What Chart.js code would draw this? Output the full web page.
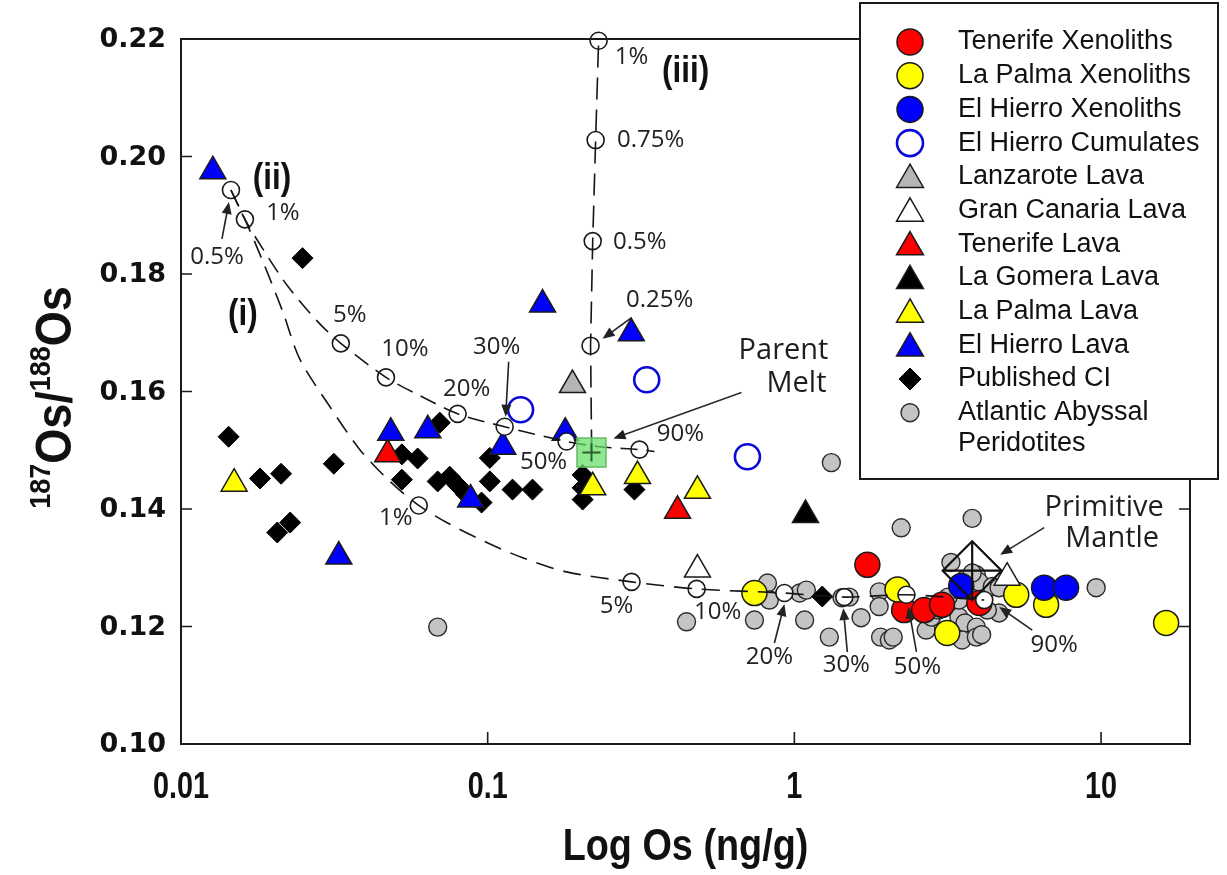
<!DOCTYPE html>
<html>
<head>
<meta charset="utf-8">
<title>187Os/188Os vs Os</title>
<script src="https://cdn.jsdelivr.net/npm/chart.js@4.4.1/dist/chart.umd.min.js"></script>
<style>
  html, body { margin: 0; padding: 0; background: #ffffff; }
  #wrap { position: relative; width: 1227px; height: 875px; }
</style>
</head>
<body>
<div id="wrap"><canvas id="chart" width="1227" height="875"></canvas></div>
<script>
// ---------- data: [Os (ng/g), 187Os/188Os] ----------
const tenerifeXenoliths = [[1.73,0.1305],[2.28,0.1228],[2.65,0.1228],[3.03,0.1237],[4.01,0.1240]];
const laPalmaXenoliths  = [[0.741,0.1257],[2.17,0.1263],[3.15,0.1189],[5.29,0.1254],[6.62,0.1237],[16.3,0.1206]];
const elHierroXenoliths = [[3.50,0.1269],[6.52,0.1266],[7.69,0.1266]];
const elHierroCumulates = [[0.128,0.1569],[0.330,0.1620],[0.703,0.1489]];
const lanzaroteLava     = [[0.189,0.1611]];
const granCanariaLava   = [[0.483,0.1297],[4.94,0.1283]];
const tenerifeLava      = [[0.0472,0.1493],[0.416,0.1397]];
const laGomeraLava      = [[1.087,0.1390]];
const laPalmaLava       = [[0.0149,0.1443],[0.220,0.1437],[0.308,0.1456],[0.483,0.1431]];
const elHierroLava      = [[0.0127,0.1975],[0.151,0.1748],[0.294,0.1699],[0.0483,0.1530],[0.0638,0.1534],
                           [0.179,0.1530],[0.112,0.1506],[0.088,0.1416],[0.0327,0.1319]];
const publishedCI       = [[0.0249,0.1827],[0.0143,0.1523],[0.0181,0.1452],[0.0212,0.1460],[0.0206,0.1360],
                           [0.0227,0.1377],[0.0315,0.1477],[0.0525,0.1493],[0.0591,0.1486],[0.0525,0.1450],
                           [0.0687,0.1447],[0.0752,0.1455],[0.0698,0.1547],[0.0800,0.1440],[0.0850,0.1425],
                           [0.1016,0.1487],[0.1016,0.1447],[0.1205,0.1433],[0.140,0.1433],[0.0955,0.1411],
                           [0.204,0.1458],[0.204,0.1436],[0.204,0.1416],[0.301,0.1433],[1.233,0.1251]];
const abyssalPeridotites = [[0.0687,0.1199],[0.445,0.1208],[1.32,0.1479],[3.80,0.1384],[2.23,0.1368],
                           [0.817,0.1274],[0.829,0.1245],[0.741,0.1211],[1.04,0.1257],[1.094,0.1262],
                           [1.08,0.1211],[1.30,0.1182],[1.43,0.1249],[1.51,0.1250],[1.65,0.1215],
                           [1.89,0.1259],[1.89,0.1234],[1.91,0.1182],[2.04,0.1177],[2.10,0.1182],
                           [3.24,0.1309],[3.92,0.1288],[4.00,0.1276],[4.42,0.1268],[4.65,0.1266],
                           [9.64,0.1266],[4.65,0.1223],[4.26,0.1228],[3.44,0.1216],[3.60,0.1206],
                           [3.92,0.1199],[3.52,0.1177],[3.92,0.1182],[4.08,0.1186],[2.69,0.1194],
                           [2.80,0.1216],[2.95,0.1228],[3.44,0.1245],[3.60,0.1280],[3.17,0.1250],[3.80,0.1291]];
const parentMelt     = [[0.218,0.1496]];
const primitiveMantle = [[3.80,0.1295]];

// mixing / melting model paths
const curveIPath   = [[0.01455,0.1943],[0.01616,0.1893],[0.01837,0.1825],[0.0215,0.1735],[0.0244,0.1655],
                      [0.0306,0.1574],[0.0383,0.1501],[0.048,0.1447],[0.0596,0.1406],[0.0735,0.1377],
                      [0.0993,0.1343],[0.130,0.1317],[0.1808,0.1293],[0.2945,0.1276],[0.480,0.1264],
                      [0.928,0.1257],[1.455,0.1250],[2.32,0.1254],[4.16,0.1245]];
const curveIIPath  = [[0.01455,0.1943],[0.01616,0.1893],[0.01837,0.1845],[0.0223,0.1779],[0.0279,0.1719],
                      [0.0332,0.1682],[0.0466,0.1624],[0.0601,0.1593],[0.0798,0.1562],[0.1136,0.1540],
                      [0.1808,0.1515],[0.2317,0.1506],[0.3126,0.1501],[0.350,0.1498]];
const curveIIIPath = [[0.2183,0.1498],[0.2165,0.1678],[0.220,0.1856],[0.2249,0.2028],[0.230,0.2197]];

// labelled steps on each model curve
const curveIMarks   = [[0.0596,0.1406],[0.2945,0.1276],[0.480,0.1264],[0.928,0.1257],[1.455,0.1250],[2.32,0.1254],[4.16,0.1245]];
const curveIPct     = ['1%','5%','10%','20%','30%','50%','90%'];
const curveIIMarks  = [[0.01455,0.1943],[0.01616,0.1893],[0.0332,0.1682],[0.0466,0.1624],[0.0798,0.1562],[0.1136,0.1540],[0.1808,0.1515],[0.3126,0.1501]];
const curveIIPct    = ['0.5%','1%','5%','10%','20%','30%','50%','90%'];
const curveIIIMarks = [[0.2165,0.1678],[0.220,0.1856],[0.2249,0.2028],[0.230,0.2197]];
const curveIIIPct   = ['0.25%','0.5%','0.75%','1%'];

// axes
const xTicks = [0.01, 0.1, 1, 10];
const xTickLabels = ['0.01', '0.1', '1', '10'];
const yTicks = [0.10, 0.12, 0.14, 0.16, 0.18, 0.20, 0.22];
const yTickLabels = ['0.10', '0.12', '0.14', '0.16', '0.18', '0.20', '0.22'];
const xTitle = 'Log Os (ng/g)';
const legendLabels = ['Tenerife Xenoliths','La Palma Xenoliths','El Hierro Xenoliths','El Hierro Cumulates',
                      'Lanzarote Lava','Gran Canaria Lava','Tenerife Lava','La Gomera Lava','La Palma Lava',
                      'El Hierro Lava','Published CI',['Atlantic Abyssal','Peridotites']];

// ---------- styles ----------
const RED = '#ff0000', YEL = '#ffff00', BLU = '#0000ff', GRY = '#c4c4c4', EDGE = '#1a1a1a';
const sym = {
  tx:  {shape:'circle',   r:12.5, fill:RED, stroke:EDGE, lw:1.5},
  px:  {shape:'circle',   r:12.5, fill:YEL, stroke:EDGE, lw:1.5},
  hx:  {shape:'circle',   r:12.5, fill:BLU, stroke:EDGE, lw:1.5},
  hc:  {shape:'circle',   r:12.5, fill:'rgba(255,255,255,0)', stroke:'#0a0ad8', lw:2.6},
  lz:  {shape:'triangle', r:15,   fill:'#b5b5b5', stroke:EDGE, lw:1.5},
  gc:  {shape:'triangle', r:15,   fill:'#ffffff', stroke:EDGE, lw:1.5},
  tl:  {shape:'triangle', r:15,   fill:RED, stroke:EDGE, lw:1.5},
  gl:  {shape:'triangle', r:15,   fill:'#000000', stroke:EDGE, lw:1.5},
  pl:  {shape:'triangle', r:15,   fill:YEL, stroke:EDGE, lw:1.5},
  hl:  {shape:'triangle', r:15,   fill:BLU, stroke:EDGE, lw:1.5},
  ci:  {shape:'rectRot',  r:10.5, fill:'#000000', stroke:'#000000', lw:1},
  ap:  {shape:'circle',   r:9,    fill:GRY, stroke:'#2a2a2a', lw:1.4}
};

const pts = arr => arr.map(([x, y]) => ({x, y}));
function markers(label, arr, s, order) {
  return {
    label, data: pts(arr), order, showLine: false, clip: false,
    pointStyle: s.shape, pointRadius: s.r, pointHoverRadius: s.r,
    pointBackgroundColor: s.fill, backgroundColor: s.fill,
    pointBorderColor: s.stroke, borderColor: s.stroke,
    pointBorderWidth: s.lw, pointHoverBorderWidth: s.lw
  };
}
function path(label, arr, dash, tension, order) {
  return {
    label, data: pts(arr), order, showLine: true, clip: false, fill: false,
    borderColor: '#151515', borderWidth: 1.6, borderDash: dash, tension,
    pointRadius: 0, pointHoverRadius: 0
  };
}
function modelPoints(label, arr, order) {
  return {
    label, data: pts(arr), order, showLine: false, clip: false,
    pointStyle: 'circle', pointRadius: 8.5, pointHoverRadius: 8.5,
    pointBackgroundColor: '#ffffff', pointBorderColor: '#1a1a1a', pointBorderWidth: 1.6
  };
}

const datasets = [
  {label:'Primitive Mantle', data: pts(primitiveMantle), order: 1, clip: false, showLine: false,
   pointStyle: 'rectRot', pointRadius: 29.5, pointHoverRadius: 29.5,
   pointBackgroundColor: 'rgba(0,0,0,0)', pointBorderColor: '#111', pointBorderWidth: 2.2},
  {label:'Primitive Mantle cross', data: pts(primitiveMantle), order: 1, clip: false, showLine: false,
   pointStyle: 'cross', pointRadius: 29.5, pointHoverRadius: 29.5,
   pointBorderColor: '#111', pointBorderWidth: 2.2},
  {label:'Parent Melt cross', data: pts(parentMelt), order: 2, clip: false, showLine: false,
   pointStyle: 'cross', pointRadius: 9, pointHoverRadius: 9,
   pointBorderColor: '#2f5f2f', pointBorderWidth: 2},
  {label:'Parent Melt', data: pts(parentMelt), order: 3, clip: false, showLine: false,
   pointStyle: 'rect', pointRadius: 20.5, pointHoverRadius: 20.5,
   pointBackgroundColor: 'rgba(100,222,100,0.72)', pointBorderColor: '#66bb66', pointBorderWidth: 1.5},
  path('curve (i)', curveIPath, [18, 10], 0.3, 4),
  path('curve (ii)', curveIIPath, [17, 9], 0.3, 4),
  path('curve (iii)', curveIIIPath, [22, 10], 0, 4),
  modelPoints('curve (i) steps', curveIMarks, 5),
  modelPoints('curve (ii) steps', curveIIMarks, 5),
  modelPoints('curve (iii) steps', curveIIIMarks, 5),
  markers('El Hierro Lava', elHierroLava, sym.hl, 6),
  markers('La Palma Lava', laPalmaLava, sym.pl, 6),
  markers('La Gomera Lava', laGomeraLava, sym.gl, 6),
  markers('Tenerife Lava', tenerifeLava, sym.tl, 6),
  markers('Gran Canaria Lava', granCanariaLava, sym.gc, 6),
  markers('Lanzarote Lava', lanzaroteLava, sym.lz, 6),
  markers('El Hierro Cumulates', elHierroCumulates, sym.hc, 7),
  markers('El Hierro Xenoliths', elHierroXenoliths, sym.hx, 7),
  markers('La Palma Xenoliths', laPalmaXenoliths, sym.px, 7),
  markers('Tenerife Xenoliths', tenerifeXenoliths, sym.tx, 7),
  markers('Published CI', publishedCI, sym.ci, 8),
  markers('Atlantic Abyssal Peridotites', abyssalPeridotites, sym.ap, 9)
];

// ---------- annotation layout (pixel offsets from the anchored point) ----------
const PCT_FONT = '24px "Open Sans", "Noto Sans", sans-serif';
const TEXT_COL = '#222222';
const curveIStyle = [
  {d:[-23,13]}, {d:[-15,24]}, {d:[21,23]},
  {d:[-15,64], a:[[-10,50],[0,11]]}, {d:[2,68], a:[[3,55],[-1,11]]},
  {d:[11,72], a:[[10,57],[2,12]]}, {d:[70,45], a:[[48,30],[15,7]]}
];
const curveIIStyle = [
  {d:[-14,67], a:[[-9,49],[-2,12]]}, {d:[38,-6]}, {d:[9,-28]}, {d:[19,-28]},
  {d:[9,-25]}, {d:[-8,-80], a:[[4,-65],[1,-10]]}, {d:[-23,21]}, {d:[41,-16]}
];
const curveIIIStyle = [
  {d:[69,-46], a:[[41,-28],[12,-7]]}, {d:[47,1]}, {d:[55,0]}, {d:[33,16]}
];

// text squeezed horizontally, for the condensed axis lettering
function fillNarrow(ctx, text, x, y, sx) {
  ctx.save();
  ctx.translate(x, y);
  ctx.scale(sx, 1);
  ctx.fillText(text, 0, 0);
  ctx.restore();
}

function drawArrow(ctx, x1, y1, x2, y2) {
  const ang = Math.atan2(y2 - y1, x2 - x1), L = 12, W = 5;
  ctx.beginPath();
  ctx.moveTo(x1, y1);
  ctx.lineTo(x2 - Math.cos(ang) * L * 0.8, y2 - Math.sin(ang) * L * 0.8);
  ctx.stroke();
  ctx.beginPath();
  ctx.moveTo(x2, y2);
  ctx.lineTo(x2 - Math.cos(ang) * L + Math.sin(ang) * W, y2 - Math.sin(ang) * L - Math.cos(ang) * W);
  ctx.lineTo(x2 - Math.cos(ang) * L - Math.sin(ang) * W, y2 - Math.sin(ang) * L + Math.cos(ang) * W);
  ctx.closePath();
  ctx.fill();
}

const annotationPlugin = {
  id: 'annotations',
  afterDatasetsDraw(chart) {
    const {ctx, scales: {x, y}} = chart;
    const P = ([vx, vy]) => [x.getPixelForValue(vx), y.getPixelForValue(vy)];
    ctx.save();
    ctx.fillStyle = TEXT_COL; ctx.strokeStyle = TEXT_COL; ctx.lineWidth = 1.6;
    ctx.textAlign = 'center'; ctx.textBaseline = 'middle';
    const put = (marks, labels, styles) => {
      marks.forEach((m, i) => {
        const [px, py] = P(m), s = styles[i];
        ctx.font = PCT_FONT;
        ctx.fillText(labels[i], px + s.d[0], py + s.d[1]);
        if (s.a) drawArrow(ctx, px + s.a[0][0], py + s.a[0][1], px + s.a[1][0], py + s.a[1][1]);
      });
    };
    put(curveIMarks, curveIPct, curveIStyle);
    put(curveIIMarks, curveIIPct, curveIIStyle);
    put(curveIIIMarks, curveIIIPct, curveIIIStyle);

    // curve names
    ctx.fillStyle = '#111';
    ctx.font = 'bold 37px "Liberation Sans", Arial, sans-serif';
    let [ax, ay] = P(curveIIMarks[0]);
    fillNarrow(ctx, '(ii)', ax + 41, ay - 11, 0.85);
    fillNarrow(ctx, '(i)', ax + 12, ay + 125, 0.85);
    [ax, ay] = P(curveIIIMarks[3]);
    fillNarrow(ctx, '(iii)', ax + 87, ay + 31, 0.85);

    // end-member callouts
    ctx.fillStyle = '#1e1e1e'; ctx.strokeStyle = '#2b2b2b';
    ctx.font = '29px "Open Sans", "Noto Sans", sans-serif';
    [ax, ay] = P(parentMelt[0]);
    ctx.fillText('Parent', ax + 192, ay - 102);
    ctx.fillText('Melt', ax + 205, ay - 69);
    drawArrow(ctx, ax + 150, ay - 60, ax + 22, ay - 14);
    [ax, ay] = P(primitiveMantle[0]);
    ctx.fillText('Primitive', ax + 132, ay - 63);
    ctx.fillText('Mantle', ax + 140, ay - 32);
    drawArrow(ctx, ax + 72, ay - 43, ax + 28, ay - 16);
    ctx.restore();
  }
};

const axesPlugin = {
  id: 'frameAxes',
  afterDatasetsDraw(chart) {
    const {ctx, chartArea: a, scales: {x, y}} = chart;
    ctx.save();
    ctx.strokeStyle = '#1a1a1a';
    ctx.lineWidth = 2;
    ctx.strokeRect(a.left, a.top, a.right - a.left, a.bottom - a.top);
    ctx.lineWidth = 1.6;
    ctx.beginPath();
    yTicks.forEach(v => {
      if (v <= y.min || v >= y.max) return;
      const py = y.getPixelForValue(v);
      ctx.moveTo(a.left, py); ctx.lineTo(a.left + 11, py);
      ctx.moveTo(a.right, py); ctx.lineTo(a.right - 11, py);
    });
    xTicks.forEach(v => {
      if (v <= x.min || v >= x.max) return;
      const px = x.getPixelForValue(v);
      ctx.moveTo(px, a.bottom); ctx.lineTo(px, a.bottom - 12);
    });
    ctx.stroke();

    ctx.fillStyle = '#111';
    ctx.textBaseline = 'middle';
    ctx.textAlign = 'right';
    ctx.font = 'bold 27px "DejaVu Sans", sans-serif';
    yTicks.forEach((v, i) => ctx.fillText(yTickLabels[i], a.left - 15, y.getPixelForValue(v) + 1));
    ctx.textAlign = 'center';
    ctx.font = 'bold 36px "Liberation Sans", Arial, sans-serif';
    xTicks.forEach((v, i) => fillNarrow(ctx, xTickLabels[i], x.getPixelForValue(v), a.bottom + 44, 0.8));

    // x title
    ctx.font = 'bold 45px "Liberation Sans", Arial, sans-serif';
    fillNarrow(ctx, xTitle, (a.left + a.right) / 2, a.bottom + 104, 0.84);

    // y title with superscript mass numbers
    const parts = [['187', true], ['Os', false], ['/', false], ['188', true], ['Os', false]];
    const big = 'bold 50px "Liberation Sans", Arial, sans-serif';
    const small = 'bold 30px "Liberation Sans", Arial, sans-serif';
    const sx = 0.9;
    let total = 0;
    parts.forEach(([t, sup]) => { ctx.font = sup ? small : big; total += ctx.measureText(t).width * sx; });
    ctx.translate(54, (a.top + a.bottom) / 2 + 6);
    ctx.rotate(-Math.PI / 2);
    ctx.textAlign = 'left'; ctx.textBaseline = 'alphabetic';
    let cx = -total / 2;
    parts.forEach(([t, sup]) => {
      ctx.font = sup ? small : big;
      fillNarrow(ctx, t, cx, sup ? -4 : 17, sx);
      cx += ctx.measureText(t).width * sx;
    });
    ctx.restore();
  }
};

function drawSymbol(ctx, s, cx, cy) {
  ctx.save();
  ctx.fillStyle = s.fill; ctx.strokeStyle = s.stroke; ctx.lineWidth = s.lw;
  ctx.beginPath();
  if (s.shape === 'circle') {
    ctx.arc(cx, cy, s.r, 0, Math.PI * 2);
  } else if (s.shape === 'triangle') {
    const r = s.r, h = r * 1.5, w = r * 0.866;
    ctx.moveTo(cx, cy - h / 2 - 1); ctx.lineTo(cx + w, cy + h / 2 - 1); ctx.lineTo(cx - w, cy + h / 2 - 1);
    ctx.closePath();
  } else {
    ctx.moveTo(cx - s.r, cy); ctx.lineTo(cx, cy - s.r); ctx.lineTo(cx + s.r, cy); ctx.lineTo(cx, cy + s.r);
    ctx.closePath();
  }
  ctx.fill(); ctx.stroke();
  ctx.restore();
}

const legendSymbols = [
  {...sym.tx, r:13}, {...sym.px, r:13}, {...sym.hx, r:13}, {...sym.hc, r:13},
  {...sym.lz, r:15.5}, {...sym.gc, r:15.5}, {...sym.tl, r:15.5}, {...sym.gl, r:15.5},
  {...sym.pl, r:15.5}, {...sym.hl, r:15.5}, {...sym.ci, r:11}, {...sym.ap, r:9}
];

const legendPlugin = {
  id: 'boxLegend',
  afterDraw(chart) {
    const ctx = chart.ctx;
    const box = {l: 860, t: 3, w: 358, h: 476};
    ctx.save();
    ctx.fillStyle = '#ffffff';
    ctx.fillRect(box.l, box.t, box.w, box.h);
    ctx.strokeStyle = '#1a1a1a'; ctx.lineWidth = 2;
    ctx.strokeRect(box.l, box.t, box.w, box.h);
    ctx.font = '27px "Liberation Sans", Arial, sans-serif';
    ctx.textAlign = 'left'; ctx.textBaseline = 'middle';
    legendLabels.forEach((lab, i) => {
      const ry = 42 + i * 33.7;
      drawSymbol(ctx, legendSymbols[i], 910, ry);
      ctx.fillStyle = '#111';
      if (Array.isArray(lab)) {
        ctx.fillText(lab[0], 958, ry);
        ctx.fillText(lab[1], 958, ry + 31);
      } else {
        ctx.fillText(lab, 958, ry);
      }
    });
    ctx.restore();
  }
};

new Chart(document.getElementById('chart'), {
  type: 'scatter',
  data: {datasets},
  options: {
    responsive: false,
    animation: false,
    devicePixelRatio: 1,
    layout: {padding: {left: 181, right: 37, top: 39, bottom: 131}},
    scales: {
      x: {type: 'logarithmic', min: 0.01, max: 19.5, display: false},
      y: {type: 'linear', min: 0.10, max: 0.22, display: false}
    },
    plugins: {legend: {display: false}, tooltip: {enabled: false}},
    events: []
  },
  plugins: [axesPlugin, annotationPlugin, legendPlugin]
});
</script>
</body>
</html>
